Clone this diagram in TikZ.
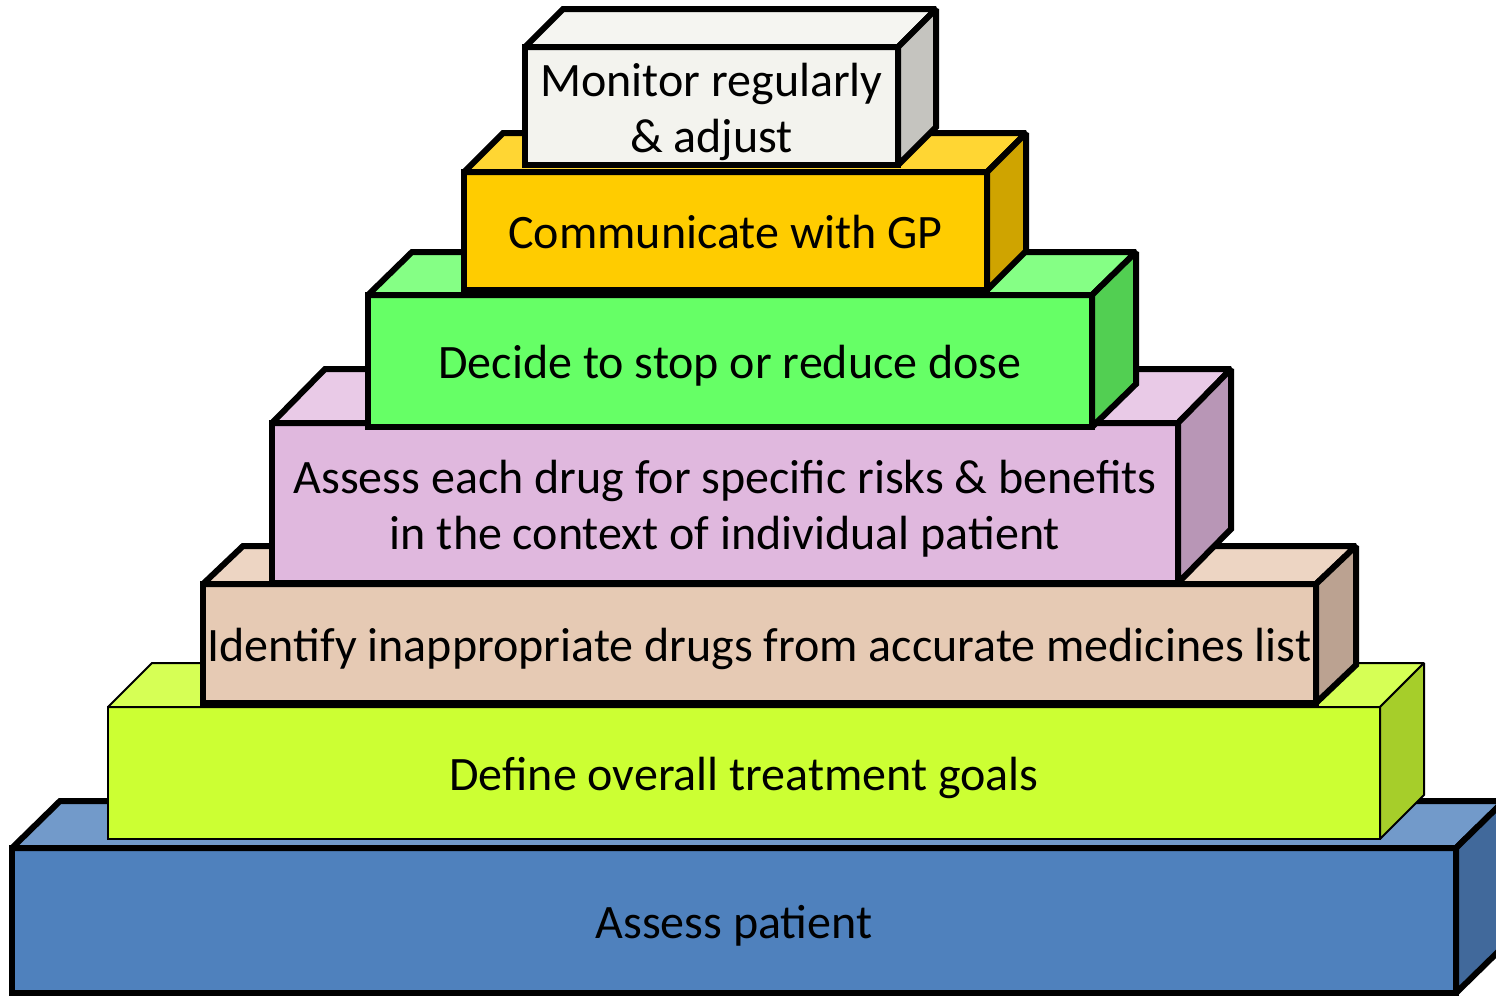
\documentclass[tikz,border=0pt]{standalone}
\usepackage{fontspec}
\setmainfont{Carlito}

\definecolor{bluefront}{HTML}{4F81BD}
\definecolor{bluetop}{HTML}{729ACA}
\definecolor{blueside}{HTML}{41699B}
\definecolor{limefront}{HTML}{CCFF33}
\definecolor{limetop}{HTML}{D6FF55}
\definecolor{limeside}{HTML}{A6CE2A}
\definecolor{peachfront}{HTML}{E6CAB4}
\definecolor{peachtop}{HTML}{EDD5C3}
\definecolor{peachside}{HTML}{BBA291}
\definecolor{pinkfront}{HTML}{E0B8DE}
\definecolor{pinktop}{HTML}{E9CAE7}
\definecolor{pinkside}{HTML}{B896B6}
\definecolor{greenfront}{HTML}{66FF66}
\definecolor{greentop}{HTML}{85FF85}
\definecolor{greenside}{HTML}{52CF52}
\definecolor{yellowfront}{HTML}{FFCC00}
\definecolor{yellowtop}{HTML}{FFD633}
\definecolor{yellowside}{HTML}{CFA400}
\definecolor{whitefront}{HTML}{F3F3EE}
\definecolor{whitetop}{HTML}{F5F5F1}
\definecolor{whiteside}{HTML}{C5C4BF}

\begin{document}
\begin{tikzpicture}[x=1pt, y=-1pt]
	\tikzstyle{blockfront} = [rectangle, draw=black, line width=6pt, outer sep=0pt, inner sep=0pt, align=center, font=\fontsize{48}{56}\selectfont, text height=45pt, text depth=10pt]
	\tikzstyle{twolines} = [text height=102pt, text depth=10pt]
	\tikzstyle{blockface} = [draw=black, line width=6pt, miter limit=1.5]
	\tikzstyle{slimline} = [line width=2pt]

	\clip (0,0) rectangle (1496,996);

%----------Assess patient--------------------------------------
	\node[blockfront, fill=bluefront, minimum width=1444pt, minimum height=145pt] (patient) at (734,920.5) {Assess patient};
	\filldraw[blockface, fill=bluetop] (patient.north west) -- ++(48,-47) -- ++(1444,0) -- (patient.north east) -- cycle;
	\filldraw[blockface, fill=blueside] (patient.north east) -- ++(48,-47) -- ++(0,145) -- (patient.south east) -- cycle;

%----------Define overall treatment goals----------------------
	\node[blockfront, slimline, fill=limefront, minimum width=1272pt, minimum height=132pt] (goals) at (744,773) {Define overall treatment goals};
	\filldraw[blockface, slimline, fill=limetop] (goals.north west) -- ++(44,-44) -- ++(1272,0) -- (goals.north east) -- cycle;
	\filldraw[blockface, slimline, fill=limeside] (goals.north east) -- ++(44,-44) -- ++(0,132) -- (goals.south east) -- cycle;

%----------Identify inappropriate drugs------------------------
	\node[blockfront, fill=peachfront, minimum width=1113pt, minimum height=119pt] (identify) at (759.5,643.5) {Identify inappropriate drugs from accurate medicines list};
	\filldraw[blockface, fill=peachtop] (identify.north west) -- ++(40,-38) -- ++(1113,0) -- (identify.north east) -- cycle;
	\filldraw[blockface, fill=peachside] (identify.north east) -- ++(40,-38) -- ++(0,119) -- (identify.south east) -- cycle;

%----------Assess each drug------------------------------------
	\node[blockfront, twolines, fill=pinkfront, minimum width=906pt, minimum height=160pt] (risks) at (725,503) {Assess each drug for specific risks \& benefits\\in the context of individual patient};
	\filldraw[blockface, fill=pinktop] (risks.north west) -- ++(53,-54) -- ++(906,0) -- (risks.north east) -- cycle;
	\filldraw[blockface, fill=pinkside] (risks.north east) -- ++(53,-54) -- ++(0,160) -- (risks.south east) -- cycle;

%----------Decide to stop or reduce dose-----------------------
	\node[blockfront, fill=greenfront, minimum width=724pt, minimum height=132pt] (decide) at (730,361) {Decide to stop or reduce dose};
	\filldraw[blockface, fill=greentop] (decide.north west) -- ++(44,-43) -- ++(724,0) -- (decide.north east) -- cycle;
	\filldraw[blockface, fill=greenside] (decide.north east) -- ++(44,-43) -- ++(0,132) -- (decide.south east) -- cycle;

%----------Communicate with GP---------------------------------
	\node[blockfront, fill=yellowfront, minimum width=523pt, minimum height=118pt] (gp) at (725.5,231) {Communicate with GP};
	\filldraw[blockface, fill=yellowtop] (gp.north west) -- ++(39,-39) -- ++(523,0) -- (gp.north east) -- cycle;
	\filldraw[blockface, fill=yellowside] (gp.north east) -- ++(39,-39) -- ++(0,118) -- (gp.south east) -- cycle;

%----------Monitor regularly & adjust--------------------------
	\node[blockfront, twolines, fill=whitefront, minimum width=373pt, minimum height=118pt] (monitor) at (711.5,106) {Monitor regularly\\\& adjust};
	\filldraw[blockface, fill=whitetop] (monitor.north west) -- ++(38,-38) -- ++(373,0) -- (monitor.north east) -- cycle;
	\filldraw[blockface, fill=whiteside] (monitor.north east) -- ++(38,-38) -- ++(0,118) -- (monitor.south east) -- cycle;

\end{tikzpicture}
\end{document}
